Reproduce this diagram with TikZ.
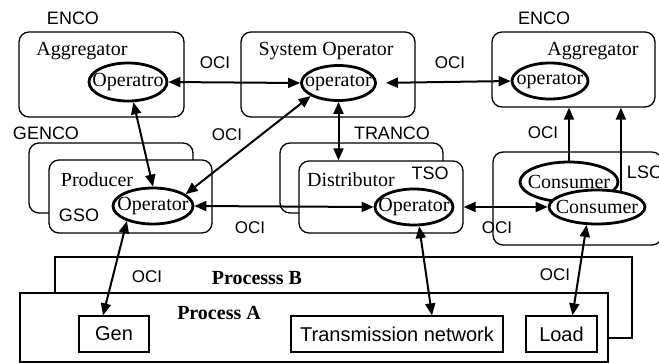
\documentclass[tikz,border=0pt]{standalone}
\usepackage{fontspec}
\setmainfont{Liberation Serif}
\newfontfamily\helv{Liberation Sans}
\usetikzlibrary{shapes.geometric,arrows.meta}
\begin{document}
\begin{tikzpicture}[x=1pt, y=-1pt,
  box/.style={draw=black, rounded corners=10pt, line width=1.3pt, fill=white, inner sep=0pt},
  oper/.style={ellipse, draw=black, line width=2.8pt, fill=white, inner sep=0pt, font=\fontsize{20}{24}\selectfont},
  role/.style={inner sep=0pt, font=\fontsize{20}{24}\selectfont},
  org/.style={inner sep=0pt, font=\helv\fontsize{18}{21}\selectfont},
  oci/.style={inner sep=0pt, font=\helv\fontsize{17}{20}\selectfont},
  part/.style={draw=black, line width=1.3pt, fill=white, inner sep=0pt, minimum height=36pt, font=\helv\fontsize{20}{24}\selectfont},
  proc/.style={draw=black, line width=2.8pt, fill=white, inner sep=0pt},
  ptitle/.style={inner sep=0pt, font=\bfseries\fontsize{20}{24}\selectfont},
  link/.style={line width=2pt, {Triangle[length=12pt,width=10pt]}-{Triangle[length=12pt,width=10pt]}},
  up/.style={line width=2pt, -{Triangle[length=12pt,width=10pt]}}]
\useasboundingbox (0,0) rectangle (659,362);
\node [proc, minimum width=577pt, minimum height=81pt] (procb) at (343.5,297.5) {};
\node [proc, minimum width=588pt, minimum height=69pt] (proca) at (314,327.5) {};
\node [ptitle] (titleb) at (257,278) {Processs B};
\node [ptitle] (titlea) at (219,313) {Process A};
\node [part, minimum width=70pt] (gen) at (114,334) {Gen};
\node [part, minimum width=212pt] (trans) at (397,334) {Transmission network};
\node [part, minimum width=71pt] (load) at (561.5,334) {Load};

\node [box, minimum width=165pt, minimum height=85pt] (aggl) at (101.5,74.5) {};
\node [box, minimum width=174pt, minimum height=85pt] (sysop) at (328,74.5) {};
\node [box, minimum width=163pt, minimum height=75pt] (aggr) at (573.5,69.5) {};
\node [box, minimum width=164pt, minimum height=70pt] (gencob) at (111,178) {};
\node [box, minimum width=163pt, minimum height=73pt] (gso) at (130.5,196.5) {};
\node [box, minimum width=163pt, minimum height=70pt] (trancob) at (361.5,178) {};
\node [box, minimum width=164pt, minimum height=72pt] (tso) at (381,197) {};
\node [box, minimum width=169pt, minimum height=93pt] (lso) at (577.5,198.5) {};

\node [org] (enco1) at (73,18) {ENCO};
\node [org] (enco2) at (544,18) {ENCO};
\node [org] (genco) at (46,133) {GENCO};
\node [org] (tranco) at (392,133) {TRANCO};
\node [org] (tsolab) at (430,173) {TSO};
\node [org] (gsolab) at (79,215) {GSO};
\node [org] (lsolab) at (645,172) {LSO};

\node [role] (aggltxt) at (82,51) {Aggregator};
\node [role] (sysoptxt) at (326,51) {System Operator};
\node [role] (aggrtxt) at (593,51) {Aggregator};
\node [role] (prodtxt) at (97,180) {Producer};
\node [role] (disttxt) at (351,180) {Distributor};

\node [oper, minimum width=78pt, minimum height=38pt] (opagg) at (128,82) {\makebox[0pt]{Operatro}};
\node [oper, minimum width=74pt, minimum height=35pt] (opsys) at (338.5,83) {\makebox[0pt]{operator}};
\node [oper, minimum width=76pt, minimum height=36pt] (opaggr) at (550,81) {\makebox[0pt]{operator}};
\node [oper, minimum width=80pt, minimum height=36pt] (opgso) at (153,206) {\makebox[0pt]{Operator}};
\node [oper, minimum width=78pt, minimum height=36pt] (optso) at (414,207) {\makebox[0pt]{Operator}};
\node [oper, minimum width=98pt, minimum height=40pt] (conb) at (569,182) {\makebox[0pt]{Consumer}};
\node [oper, minimum width=96pt, minimum height=34pt] (conf) at (597,207) {\makebox[0pt]{Consumer}};

\draw [link] (opagg.east) -- (opsys.west);
\draw [link, shorten <=9pt] (opsys.east) -- (opaggr.west);
\draw [link] (opagg.-75) -- (opgso.north);
\draw [link] (opgso.20) -- (opsys.205);
\draw [link] (opsys.south) -- (opsys.south |- tso.north);
\draw [link] (opgso.east) -- (optso.west);
\draw [link] (optso.east -| tso.east) -- (conf.west);
\draw [up] (conb.north) -- (conb.north |- aggr.south);
\draw [up] (conf.34) -- (conf.34 |- aggr.south);
\draw [link] (opgso.-150) -- ([xshift=-11pt]gen.north);
\draw [link] (optso.-75) -- ([xshift=35pt]trans.north);
\draw [link] (conf.-120) -- ([xshift=11pt]load.north);

\node [oci] (oci1) at (215,63) {OCI};
\node [oci] (oci2) at (227,135) {OCI};
\node [oci] (oci3) at (450,63) {OCI};
\node [oci] (oci4) at (250,228) {OCI};
\node [oci] (oci5) at (497,228) {OCI};
\node [oci] (oci6) at (543,133) {OCI};
\node [oci] (oci7) at (147,277) {OCI};
\node [oci] (oci8) at (555,275) {OCI};
\end{tikzpicture}
\end{document}
